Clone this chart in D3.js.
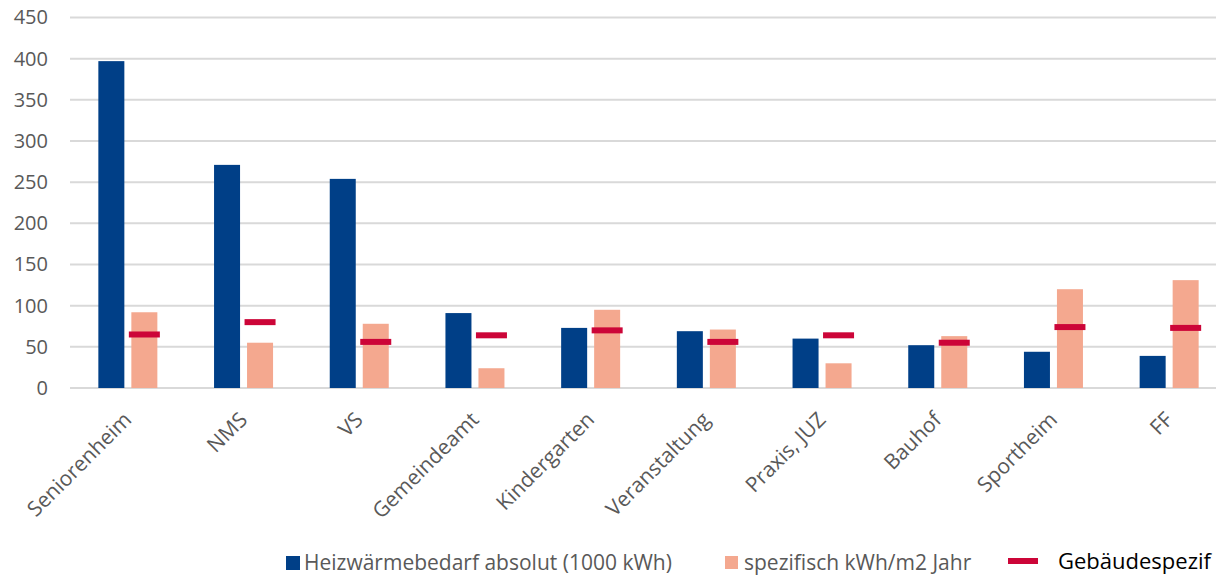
<!DOCTYPE html>
<html>
<head>
<meta charset="utf-8">
<script src="https://cdn.jsdelivr.net/npm/d3@7"></script>
<style>
  html, body { margin: 0; padding: 0; background: #fff; overflow: hidden; }
  svg { display: block; font-family: "Open Sans", sans-serif; }
</style>
</head>
<body>
<svg id="chart" width="1216" height="575"></svg>
<script>
// Gebäude und Heizwärmebedarf
const categories = ["Seniorenheim", "NMS", "VS", "Gemeindeamt", "Kindergarten",
                    "Veranstaltung", "Praxis, JUZ", "Bauhof", "Sportheim", "FF"];
const absolut    = [397, 271, 254, 91, 73, 69, 60, 52, 44, 39];      // 1000 kWh
const spezifisch = [92, 55, 78, 24, 95, 71, 30, 63, 120, 131];       // kWh/m2 Jahr
const richtwert  = [65, 80, 56, 64, 70, 56, 64, 55, 74, 73];         // gebäudespezifisch
const yTicks     = [0, 50, 100, 150, 200, 250, 300, 350, 400, 450];
const seriesNames = ["Heizwärmebedarf absolut (1000 kWh)", "spezifisch kWh/m2 Jahr", "Gebäudespezif"];

const colBlue = "#003F87", colPink = "#F4A88F", colRed = "#CC0538";
const svg = d3.select("#chart");

const y = d3.scaleLinear().domain([0, 450]).range([388, 17.5]);
const x0 = d3.scaleBand().domain(categories).range([70, 1227])
  .paddingInner(0.49).paddingOuter(0.245);
const x1 = d3.scaleBand().domain(["abs", "spez"]).range([0, x0.bandwidth()])
  .paddingInner(0.212);

// Gitterlinien
svg.append("g").selectAll("line").data(yTicks).join("line")
  .attr("x1", 70).attr("x2", 1216)
  .attr("y1", d => y(d)).attr("y2", d => y(d))
  .attr("stroke", "#d9d9d9").attr("stroke-width", 2);

// y-Achse
const yAxis = svg.append("g").attr("transform", "translate(48,0)")
  .call(d3.axisLeft(y).tickValues(yTicks).tickSize(0).tickPadding(0));
yAxis.select(".domain").remove();
yAxis.selectAll("text").attr("fill", "#595959").style("font-size", "20px")
  .style("font-family", "'Open Sans', sans-serif");

// Balken
const groups = svg.append("g").selectAll("g").data(categories).join("g")
  .attr("transform", d => `translate(${x0(d)},0)`);

groups.append("rect")
  .attr("x", x1("abs")).attr("width", x1.bandwidth())
  .attr("y", (d, i) => y(absolut[i])).attr("height", (d, i) => y(0) - y(absolut[i]))
  .attr("fill", colBlue);

groups.append("rect")
  .attr("x", x1("spez")).attr("width", x1.bandwidth())
  .attr("y", (d, i) => y(spezifisch[i])).attr("height", (d, i) => y(0) - y(spezifisch[i]))
  .attr("fill", colPink);

// Gebäudespezifischer Wert als Strich
groups.append("rect")
  .attr("x", x1("spez") + x1.bandwidth() / 2 - 15.5).attr("width", 31)
  .attr("y", (d, i) => y(richtwert[i]) - 3).attr("height", 6)
  .attr("fill", colRed);

// Kategorien, gedreht
svg.append("g").selectAll("text").data(categories).join("text")
  .attr("transform", d => `translate(${x0(d) + x0.bandwidth() / 2 + 5},421) rotate(-45)`)
  .attr("text-anchor", "end")
  .attr("fill", "#595959").style("font-size", "21px")
  .text(d => d);

// Legende
const legend = svg.append("g");
legend.append("rect").attr("x", 286).attr("y", 556).attr("width", 14).attr("height", 14).attr("fill", colBlue);
legend.append("text").attr("x", 304).attr("y", 570).attr("fill", "#595959")
  .style("font-size", "21px").text(seriesNames[0]);
legend.append("rect").attr("x", 725).attr("y", 556).attr("width", 13).attr("height", 13).attr("fill", colPink);
legend.append("text").attr("x", 744).attr("y", 570).attr("fill", "#595959")
  .style("font-size", "21px").text(seriesNames[1]);
legend.append("rect").attr("x", 1008).attr("y", 558).attr("width", 30).attr("height", 6).attr("fill", colRed);
legend.append("text").attr("x", 1058).attr("y", 569).attr("fill", "#000")
  .style("font-size", "22px").text(seriesNames[2]);
</script>
</body>
</html>
